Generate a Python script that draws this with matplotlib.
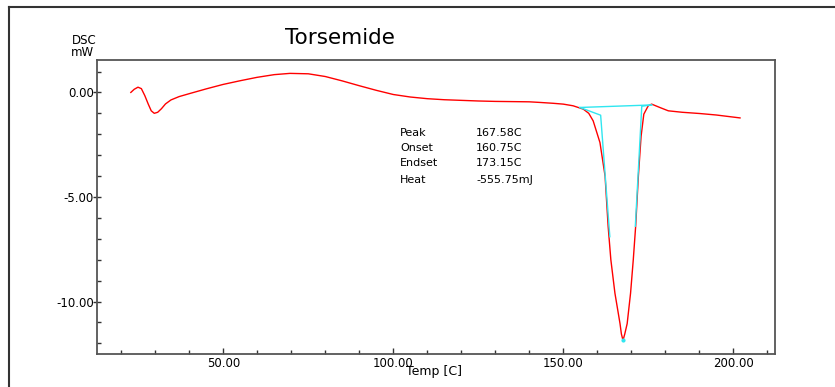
import matplotlib
matplotlib.use("Agg")
import matplotlib.pyplot as plt
from matplotlib.lines import Line2D
from matplotlib.ticker import MultipleLocator, FormatStrFormatter

plt.rcParams['font.family'] = ['DejaVu Sans']

# DSC-Kurve (Temperatur in C, Waermestrom in mW)
temp = [22.8, 23.8, 24.9, 25.9, 26.9, 27.9, 28.8, 29.7, 30.7, 31.8, 33.0, 34.6,
        37.0, 40.2, 45.0, 49.9, 55.0, 59.9, 65.0, 69.6, 75.0, 80.0, 85.0, 90.0,
        95.0, 100.0, 105.0, 110.0, 115.0, 120.0, 125.0, 130.0, 135.0, 140.0,
        143.2, 147.0, 150.0, 152.9, 155.9, 157.5, 158.8, 160.8, 162.3, 163.2, 164.0,
        165.2, 166.7, 167.1, 167.58, 168.1, 168.8, 169.8, 170.6, 171.3, 172.1,
        172.9, 173.7, 175.0, 176.0, 178.4, 180.9, 185.0, 190.2, 195.0, 200.0, 202.0]
dsc = [0.00, 0.15, 0.25, 0.18, -0.15, -0.55, -0.88, -1.00, -0.95, -0.78, -0.55, -0.36,
       -0.20, -0.05, 0.17, 0.38, 0.56, 0.72, 0.85, 0.91, 0.89, 0.76, 0.55, 0.32,
       0.10, -0.10, -0.22, -0.30, -0.35, -0.38, -0.41, -0.43, -0.44, -0.45,
       -0.48, -0.52, -0.56, -0.64, -0.80, -1.0, -1.36, -2.40, -4.00, -6.40, -8.00,
       -9.60, -11.06, -11.55, -11.86, -11.55, -11.06, -9.60, -8.00, -6.40, -4.00,
       -2.09, -1.04, -0.64, -0.56, -0.72, -0.88, -0.95, -1.01, -1.08, -1.18, -1.22]

# Auswertungslinien (Basislinie, Tangenten)
base_t = [154.9, 176.0]
base_v = [-0.72, -0.60]
onset_t = [154.9, 161.0, 163.7]
onset_v = [-0.72, -1.09, -6.9]
endset_t = [176.0, 173.1, 171.2]
endset_v = [-0.60, -0.66, -6.4]

labels = ["Peak", "Onset", "Endset", "Heat"]
values = ["167.58C", "160.75C", "173.15C", "-555.75mJ"]

W, H = 835, 387
fig = plt.figure(figsize=(W / 100, H / 100), dpi=100)
ax = fig.add_axes([96.5 / W, 1 - 354 / H, (774.7 - 96.5) / W, (354 - 60) / H])

ax.plot(temp, dsc, color='#ff0000', lw=1.0, zorder=2)
ax.plot(base_t, base_v, color='#30e6f0', lw=1.0, zorder=3)
ax.plot(onset_t, onset_v, color='#30e6f0', lw=1.0, zorder=3)
ax.plot(endset_t, endset_v, color='#30e6f0', lw=1.0, zorder=3)
ax.plot([167.58], [-11.86], marker='o', ms=2, color='#30e6f0', zorder=4)

ax.set_xlim(12.7, 212.2)
ax.set_ylim(-12.51, 1.55)

ax.xaxis.set_major_locator(MultipleLocator(50))
ax.xaxis.set_minor_locator(MultipleLocator(10))
ax.yaxis.set_major_locator(MultipleLocator(5))
ax.yaxis.set_minor_locator(MultipleLocator(1))
ax.xaxis.set_major_formatter(FormatStrFormatter('%.2f'))
ax.yaxis.set_major_formatter(FormatStrFormatter('%.2f'))

ax.tick_params(axis='x', which='major', direction='in', length=4, width=1,
               labelsize=8.5, pad=2, color='#333333')
ax.tick_params(axis='x', which='minor', direction='in', length=3, width=1, color='#333333')
ax.tick_params(axis='y', which='major', direction='inout', length=6, width=1,
               labelsize=8.5, pad=-1, color='#333333')
ax.tick_params(axis='y', which='minor', direction='in', length=3, width=1, color='#333333')

for side in ['left', 'bottom', 'top', 'right']:
    ax.spines[side].set_color('#555555')
    ax.spines[side].set_linewidth(1.3)

# Rahmen aussen
fig.add_artist(Line2D([8.5 / W, 8.5 / W], [0, 1 - 7.3 / H], transform=fig.transFigure,
                      color='#333333', lw=1.5))
fig.add_artist(Line2D([8.5 / W, 1], [1 - 7.3 / H, 1 - 7.3 / H], transform=fig.transFigure,
                      color='#333333', lw=1.5))

fig.text(340 / W, 1 - 38 / H, "Torsemide", fontsize=15.5, ha='center', va='center')
fig.text(84 / W, 1 - 41 / H, "DSC", fontsize=8.5, ha='center', va='center')
fig.text(82 / W, 1 - 53 / H, "mW", fontsize=8.5, ha='center', va='center')
fig.text(434 / W, 1 - 372 / H, "Temp [C]", fontsize=9, ha='center', va='center')

rows_y = [132.7, 147.7, 163.3, 179.7]
for lab, val, yy in zip(labels, values, rows_y):
    fig.text(400 / W, 1 - yy / H, lab, fontsize=8, ha='left', va='center')
    fig.text(476 / W, 1 - yy / H, val, fontsize=8, ha='left', va='center')

fig.savefig("out.png", dpi=100)
